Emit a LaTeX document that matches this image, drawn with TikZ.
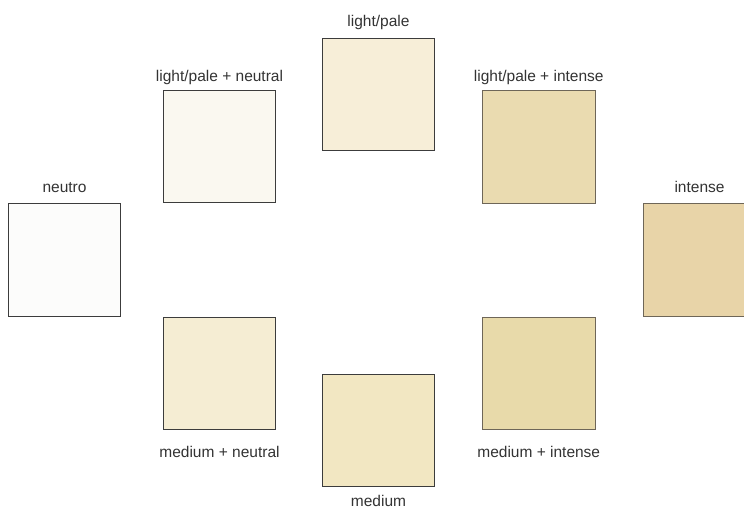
\documentclass[tikz,border=0pt]{standalone}
\usepackage{fontspec}
\setmainfont{Liberation Sans}
\definecolor{cneutro}{HTML}{FCFCFB}
\definecolor{clpn}{HTML}{FAF8F0}
\definecolor{clp}{HTML}{F7EED8}
\definecolor{clpi}{HTML}{EADBB0}
\definecolor{cint}{HTML}{E8D4A8}
\definecolor{cmn}{HTML}{F5EDD3}
\definecolor{cmed}{HTML}{F2E7C2}
\definecolor{cmi}{HTML}{E8DAAA}
\definecolor{bdark}{HTML}{3C3C3C}
\definecolor{bwarm}{HTML}{6E6658}
\definecolor{txt}{HTML}{333333}
\tikzset{
  sq/.style={draw=bdark, line width=0.9pt, minimum size=112.5pt, inner sep=0pt, outer sep=0pt},
  lbl/.style={anchor=base, inner sep=0pt, text=txt, font=\fontsize{15.5}{18}\selectfont}
}
\begin{document}
\begin{tikzpicture}[x=1pt,y=-1pt]
\useasboundingbox (0,0) rectangle (744,515);
\clip (0,0) rectangle (744,515);
\fill[white] (0,0) rectangle (744,515);
% squares
\node[sq, fill=cneutro] (neutro) at (64.5,259.75) {};
\node[sq, fill=cint, draw=bwarm] (intense) at (699.5,259.75) {};
\node[sq, fill=clpn] (lpn) at (219.5,146.5) {};
\node[sq, fill=clp] (lp) at (378.5,94.25) {};
\node[sq, fill=clpi, draw=bwarm] (lpi) at (538.75,146.75) {};
\node[sq, fill=cmn] (mn) at (219.5,373.25) {};
\node[sq, fill=cmed] (med) at (378.5,430.25) {};
\node[sq, fill=cmi, draw=bwarm] (mi) at (538.75,373.5) {};
% labels
\node[lbl] (lpL) at (378.5,26) {light/pale};
\node[lbl] (lpnL) at (219.5,81.5) {light/pale + neutral};
\node[lbl] (lpiL) at (538.75,81.5) {light/pale + intense};
\node[lbl] (neutroL) at (64.5,192.5) {neutro};
\node[lbl] (intenseL) at (699.5,192.5) {intense};
\node[lbl] (mnL) at (219.5,457) {medium + neutral};
\node[lbl] (miL) at (538.75,457) {medium + intense};
\node[lbl] (medL) at (378.5,506) {medium};
\end{tikzpicture}
\end{document}
